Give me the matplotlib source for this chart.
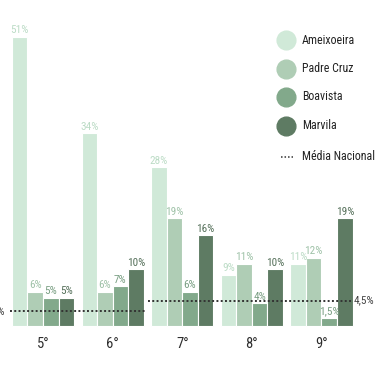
import matplotlib
matplotlib.use("Agg")
import matplotlib.pyplot as plt
from matplotlib.lines import Line2D
from matplotlib import font_manager

categories = ["5°", "6°", "7°", "8°", "9°"]
series_names = ["Ameixoeira", "Padre Cruz", "Boavista", "Marvila"]
ameixoeira = [51, 34, 28, 9, 11]
padre_cruz = [6, 6, 19, 11, 12]
boavista = [5, 7, 6, 4, 1.5]
marvila = [5, 10, 16, 10, 19]
value_labels = [
    ["51%", "34%", "28%", "9%", "11%"],
    ["6%", "6%", "19%", "11%", "12%"],
    ["5%", "7%", "6%", "4%", "1,5%"],
    ["5%", "10%", "16%", "10%", "19%"],
]
national_avg = [2.6, 4.5]
national_labels = ["2,6%", "4,5%"]
legend_avg = "Média Nacional"

colors = ["#d0e9d8", "#afcdb5", "#82a98b", "#5e7b63"]
label_colors = ["#bcdcc6", "#9fc2a8", "#7a9f83", "#55705a"]

avail = sorted({f.name for f in font_manager.fontManager.ttflist})
chosen = "Lato"
for cand in ["Roboto Condensed", "Open Sans Condensed", "Liberation Sans Narrow",
             "Noto Sans Condensed", "Lato"]:
    if cand in avail:
        chosen = cand
        break
plt.rcParams["font.family"] = [chosen, "DejaVu Sans"]

fig = plt.figure(figsize=(3.75, 3.66), dpi=100)
ax = fig.add_axes([0, 0, 1, 1])
ax.set_xlim(-0.618, 4.770)
ax.set_ylim(-7.05, 57.5)
ax.axis("off")

data = [ameixoeira, padre_cruz, boavista, marvila]
w = 0.2235
offsets = [-1.5 * w, -0.5 * w, 0.5 * w, 1.5 * w]
for s, vals in enumerate(data):
    xs = [i + offsets[s] for i in range(len(categories))]
    ax.bar(xs, vals, width=w, color=colors[s], edgecolor="white", linewidth=0.8)
    for x, v, lab in zip(xs, vals, value_labels[s]):
        ax.text(x, v + 0.3, lab, ha="center", va="bottom", fontsize=8.1,
                color=label_colors[s])

for i, c in enumerate(categories):
    ax.text(i, -1.9, c, ha="center", va="top", fontsize=10.5, color="#2e2e2e")

# national average lines
ax.plot([-0.474, 1.466], [national_avg[0]] * 2, color="#333333", lw=1.4,
        linestyle=(0, (1, 1.2)))
ax.plot([1.509, 4.44], [national_avg[1]] * 2, color="#333333", lw=1.4,
        linestyle=(0, (1, 1.2)))
ax.text(-0.545, national_avg[0], national_labels[0], ha="right", va="center",
        fontsize=8.1, color="#444444")
ax.text(4.47, national_avg[1], national_labels[1], ha="left", va="center",
        fontsize=8.1, color="#444444")

# legend
ys = [40, 69, 97, 126]
for s, name in enumerate(series_names):
    yf = 1 - ys[s] / 366
    fig.add_artist(Line2D([286 / 375], [yf], marker="o", markersize=13.5,
                          color=colors[s], linestyle="none",
                          transform=fig.transFigure))
    fig.text(302 / 375, yf, name, ha="left", va="center", fontsize=8.6,
             color="#222222")
yf = 1 - 157 / 366
fig.add_artist(Line2D([281 / 375, 293 / 375], [yf, yf], color="#333333", lw=1.1,
                      linestyle=(0, (1, 1.3)), transform=fig.transFigure))
fig.text(302 / 375, yf, legend_avg, ha="left", va="center", fontsize=8.6,
         color="#222222")

fig.savefig("out.png", dpi=100)
